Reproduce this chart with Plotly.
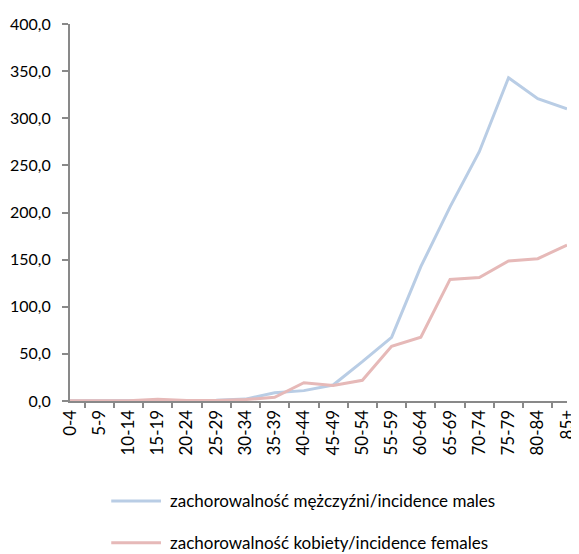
import plotly.graph_objects as go

age_groups = ["0-4", "5-9", "10-14", "15-19", "20-24", "25-29", "30-34", "35-39", "40-44",
              "45-49", "50-54", "55-59", "60-64", "65-69", "70-74", "75-79", "80-84", "85+"]
males = [0.3, 0.2, 0.3, 0.5, 0.5, 0.8, 2.0, 8.8, 11.0, 17.0, 41.7, 67.6, 142.5, 206.0, 264.5, 343.0, 320.8, 310.0]
females = [0.3, 0.2, 0.3, 1.8, 0.5, 0.5, 1.5, 4.0, 19.4, 16.5, 22.0, 58.0, 67.6, 129.0, 131.0, 148.5, 151.0, 165.5]
name_m = "zachorowalność mężczyźni/incidence males"
name_f = "zachorowalność kobiety/incidence females"
y_ticks = [0, 50, 100, 150, 200, 250, 300, 350, 400]

FONT = "Lato"
FS = 17
C_M = "#B9CDE5"
C_F = "#E6B9B8"

fig = go.Figure()
fig.add_trace(go.Scatter(x=age_groups, y=males, mode="lines", name=name_m,
                         line=dict(color=C_M, width=3), showlegend=False))
fig.add_trace(go.Scatter(x=age_groups, y=females, mode="lines", name=name_f,
                         line=dict(color=C_F, width=3), showlegend=False))

# legend drawn below the plot (line sample + label per series)
legend_rows = [(name_m, C_M, -0.265), (name_f, C_F, -0.376)]
for label, color, yy in legend_rows:
    fig.add_shape(type="line", xref="paper", yref="paper", x0=0.083, x1=0.183, y0=yy, y1=yy,
                  line=dict(color=color, width=3))
    fig.add_annotation(xref="paper", yref="paper", x=0.197, y=yy, text=label, showarrow=False,
                       xanchor="left", yanchor="middle",
                       font=dict(family=FONT, size=FS, color="#000000"))

# page body has an 8px default margin, so the figure is sized to fit the window
fig.update_layout(
    width=571, height=546,
    margin=dict(l=62, r=2, t=16, b=153),
    paper_bgcolor="white", plot_bgcolor="white",
    separators=", ",
    font=dict(family=FONT, size=FS, color="#000000"),
    showlegend=False,
)
fig.update_xaxes(
    type="category", tickangle=-90, showgrid=False, zeroline=False,
    showline=True, linecolor="#898989", linewidth=2,
    ticks="outside", tickson="boundaries", ticklen=5, tickcolor="#898989", tickwidth=2,
    tickfont=dict(family=FONT, size=FS, color="#000000"),
)
fig.update_yaxes(
    range=[0, 400], tickvals=y_ticks, tickformat=".1f", showgrid=False, zeroline=False,
    showline=True, linecolor="#898989", linewidth=2,
    ticks="outside", ticklen=6, tickcolor="#898989", tickwidth=2, ticklabelstandoff=8,
    tickfont=dict(family=FONT, size=16, color="#000000"),
)

fig.write_html("out.html")
